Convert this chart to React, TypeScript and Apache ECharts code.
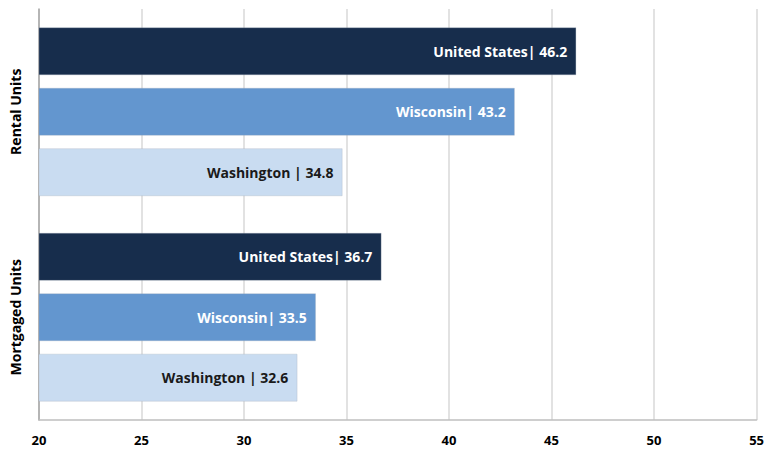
import React, { useEffect, useRef } from "react";
import * as echarts from "echarts";

const categories = ["Rental Units", "Mortgaged Units"];
const seriesNames = ["United States", "Wisconsin", "Washington"];
const labelPrefixes = ["United States|", "Wisconsin|", "Washington |"];
const unitedStates = [46.2, 36.7];
const wisconsin = [43.2, 33.5];
const washington = [34.8, 32.6];
const xTicks = [20, 25, 30, 35, 40, 45, 50, 55];

const colors = ["#172d4c", "#6396cf", "#c9dcf1"];
const labelColors = ["#ffffff", "#ffffff", "#1a1a1a"];

export default function App() {
  const ref = useRef<HTMLDivElement>(null);
  useEffect(() => {
    if (!ref.current) return;
    const chart = echarts.init(ref.current, null, { renderer: "svg" });
    const values = [unitedStates, wisconsin, washington];
    const font = "'Open Sans', Lato, sans-serif";
    chart.setOption({
      animation: false,
      grid: { left: 39, right: 7, top: 9, bottom: 36, containLabel: false },
      xAxis: {
        type: "value",
        min: xTicks[0],
        max: xTicks[xTicks.length - 1],
        interval: 5,
        axisLine: { show: true, lineStyle: { color: "#bfbfbf", width: 1.5 } },
        axisTick: { show: false },
        splitLine: { show: true, lineStyle: { color: "#d9d9d9", width: 1.5 } },
        axisLabel: {
          color: "#000",
          fontWeight: "bold",
          fontSize: 13,
          fontFamily: font,
          margin: 13,
        },
      },
      yAxis: {
        type: "category",
        data: categories,
        inverse: true,
        axisLine: { show: true, lineStyle: { color: "#a6a6a6", width: 1.5 } },
        axisTick: { show: false },
        axisLabel: {
          rotate: 90,
          color: "#000",
          fontWeight: "bold",
          fontSize: 14,
          fontFamily: font,
          margin: 17,
          align: "center",
          verticalAlign: "bottom",
        },
      },
      series: seriesNames.map((name, i) => ({
        name,
        type: "bar",
        data: values[i],
        barGap: "27%",
        barCategoryGap: "18%",
        itemStyle: { color: colors[i], borderColor: "rgba(160,170,185,0.6)", borderWidth: 0.5 },
        label: {
          show: true,
          position: "insideRight",
          distance: 9,
          color: labelColors[i],
          fontWeight: "bold",
          fontSize: 14,
          fontFamily: font,
          formatter: (p: any) => `${labelPrefixes[i]} ${p.value}`,
        },
      })),
    });
    return () => chart.dispose();
  }, []);
  return <div ref={ref} style={{ width: 767, height: 456, position: "absolute", left: 0, top: 0 }} />;
}
